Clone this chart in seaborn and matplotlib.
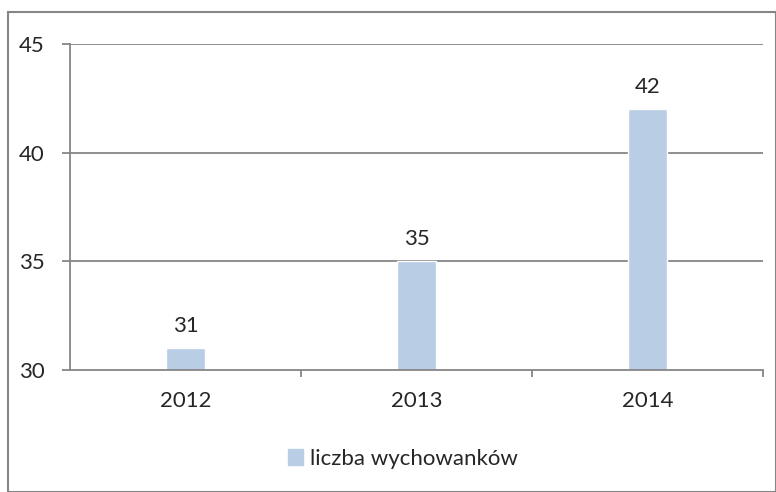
import matplotlib
matplotlib.use("Agg")
import matplotlib.pyplot as plt
import seaborn as sns
import pandas as pd
from matplotlib.patches import Rectangle, Patch

years = ["2012", "2013", "2014"]
values = [31, 35, 42]
series_name = "liczba wychowanków"

bar_color = "#B9CDE5"
line_color = "#868686"

sns.set_style("white")
plt.rcParams['font.family'] = ['Lato', 'DejaVu Sans']

df = pd.DataFrame({"rok": years, "liczba": values})

fig = plt.figure(figsize=(7.76, 4.92), dpi=100)
ax = fig.add_axes([0.0902, 0.248, 0.8930, 0.6626])

sns.barplot(data=df, x="rok", y="liczba", color=bar_color, width=0.17,
            saturation=1, ax=ax)

ax.set_ylim(30, 45)
ax.set_xlim(-0.5, 2.5)
ax.set_yticks([30, 35, 40, 45])
ax.set_xlabel("")
ax.set_ylabel("")

# gridlines
for y in [35, 40, 45]:
    ax.axhline(y, color=line_color, lw=1.3, zorder=0)

for s in ["top", "right"]:
    ax.spines[s].set_visible(False)
for s in ["left", "bottom"]:
    ax.spines[s].set_color(line_color)
    ax.spines[s].set_linewidth(1.3)

fs = 16
ax.tick_params(axis="y", length=6, width=1.3, color=line_color, pad=12,
               labelsize=fs, left=True)
ax.tick_params(axis="x", which="major", length=0, pad=15, labelsize=fs)
ax.set_xticks([0.5, 1.5, 2.5], minor=True)
ax.tick_params(axis="x", which="minor", length=5, width=1.3,
               color=line_color, bottom=True, direction="out")

for c in ax.containers:
    ax.bar_label(c, labels=[str(v) for v in values], padding=9, fontsize=fs)

ax.legend(handles=[Patch(color=bar_color, label=series_name)],
          loc="center", bbox_to_anchor=(0.519, 0.067), bbox_transform=fig.transFigure,
          frameon=False, fontsize=fs, handlelength=0.7, handleheight=0.7,
          handletextpad=0.3)

fig.patches.append(Rectangle((8 / 776, 0), 1 - 8 / 776, 1 - 12 / 492,
                             transform=fig.transFigure, fill=False,
                             edgecolor=line_color, lw=1.5))

fig.savefig("out.png", dpi=100)
